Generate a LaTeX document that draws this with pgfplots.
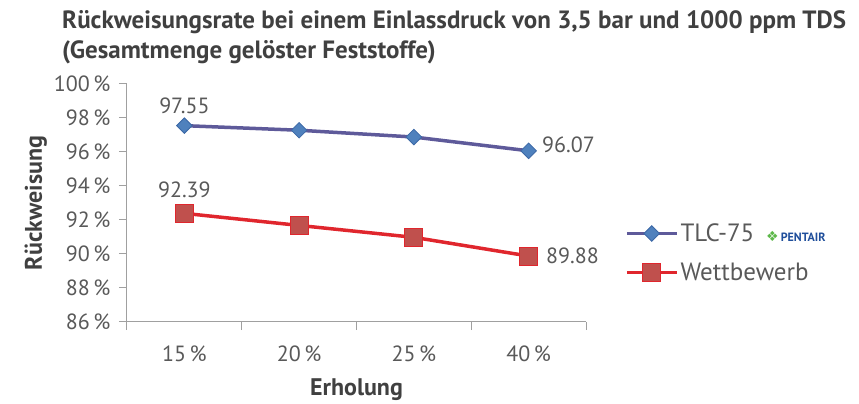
\documentclass[border=0pt]{standalone}
\usepackage{pgfplots}
\pgfplotsset{compat=1.18}
\usepackage{fontspec}
\setmainfont{PT Sans}
\newfontfamily\djv{DejaVu Sans}
\definecolor{txt}{HTML}{595959}
\definecolor{ttl}{HTML}{404040}
\definecolor{axc}{HTML}{A0A0A0}
\definecolor{tlcline}{HTML}{5E5A9A}
\definecolor{tlcmark}{HTML}{4F81BD}
\definecolor{tlcedge}{HTML}{3C68A6}
\definecolor{wline}{HTML}{E0262D}
\definecolor{wmark}{HTML}{C0504D}
\definecolor{pblue}{HTML}{1F4E9B}
\definecolor{pgreen}{HTML}{5DB84A}
\begin{document}
\begin{tikzpicture}[x=1pt,y=1pt]
\path[use as bounding box] (0pt,0pt) rectangle (859pt,404pt);
\node[anchor=north west, align=left, text=ttl, font=\fontsize{25}{30}\selectfont\bfseries, inner sep=0pt] at (62pt,394pt)
 {Rückweisungsrate bei einem Einlassdruck von 3,5 bar und 1000 ppm TDS\\(Gesamtmenge gelöster Feststoffe)};
\begin{axis}[
  at={(127pt,82pt)}, anchor=south west,
  scale only axis, width=459pt, height=238pt,
  xmin=0.5, xmax=4.5, ymin=86, ymax=100,
  axis x line=bottom, axis y line=left,
  axis line style={draw=axc, line width=1pt, -},
  xtick={1,2,3,4}, xticklabels={15\,\%,20\,\%,25\,\%,40\,\%},
  minor xtick={0.5,1.5,2.5,3.5,4.5},
  major x tick style={draw=none},
  minor x tick style={draw=axc, line width=1pt},
  ytick={86,88,...,100},
  yticklabel={\pgfmathprintnumber{\tick}\,\%},
  y tick style={draw=axc, line width=1pt},
  tick align=outside, major tick length=8pt, minor tick length=8pt,
  /pgf/number format/assume math mode=true,
  tick label style={text=txt, font=\fontsize{22}{22}\selectfont},
  xticklabel style={yshift=-12pt},
  yticklabel style={xshift=-5pt},
  xlabel={Erholung}, ylabel={Rückweisung},
  label style={text=ttl, font=\fontsize{24}{24}\selectfont\bfseries},
  xlabel style={yshift=-10pt},
  ylabel style={yshift=0pt},
  clip=false,
  legend style={at={(1.078,0.29)}, anchor=west, draw=none, fill=none,
    font=\fontsize{25}{25}\selectfont, text=txt, row sep=16pt,
    legend cell align=left, /tikz/every even column/.append style={column sep=2pt}},
  legend image code/.code={\draw[mark repeat=2,mark phase=2] plot coordinates {(0pt,0pt) (25pt,0pt) (50pt,0pt)};},
]
\addplot[color=tlcline, line width=3.5pt, mark=square*, mark size=5.5pt,
  mark options={rotate=45, fill=tlcmark, draw=tlcedge, line width=0.8pt}]
  coordinates {(1,97.55) (2,97.28) (3,96.88) (4,96.07)};
\addlegendentry{TLC-75\hspace{12pt}{\color{pgreen}\djv\fontsize{14}{14}\selectfont ❖}{\color{pblue}\fontsize{12}{12}\selectfont\bfseries\,PENTAIR}}
\addplot[color=wline, line width=3.5pt, mark=square*, mark size=9pt,
  mark options={fill=wmark, draw=wline, line width=1pt}]
  coordinates {(1,92.39) (2,91.68) (3,90.98) (4,89.88)};
\addlegendentry{Wettbewerb}
\node[above, text=txt, font=\fontsize{22}{22}\selectfont, yshift=8pt] at (axis cs:1,97.55) {97.55};
\node[above, text=txt, font=\fontsize{22}{22}\selectfont, yshift=12pt] at (axis cs:1,92.39) {92.39};
\node[right, text=txt, font=\fontsize{22}{22}\selectfont, xshift=10pt, yshift=6pt] at (axis cs:4,96.07) {96.07};
\node[right, text=txt, font=\fontsize{22}{22}\selectfont, xshift=14pt] at (axis cs:4,89.88) {89.88};
\end{axis}
\end{tikzpicture}
\end{document}
